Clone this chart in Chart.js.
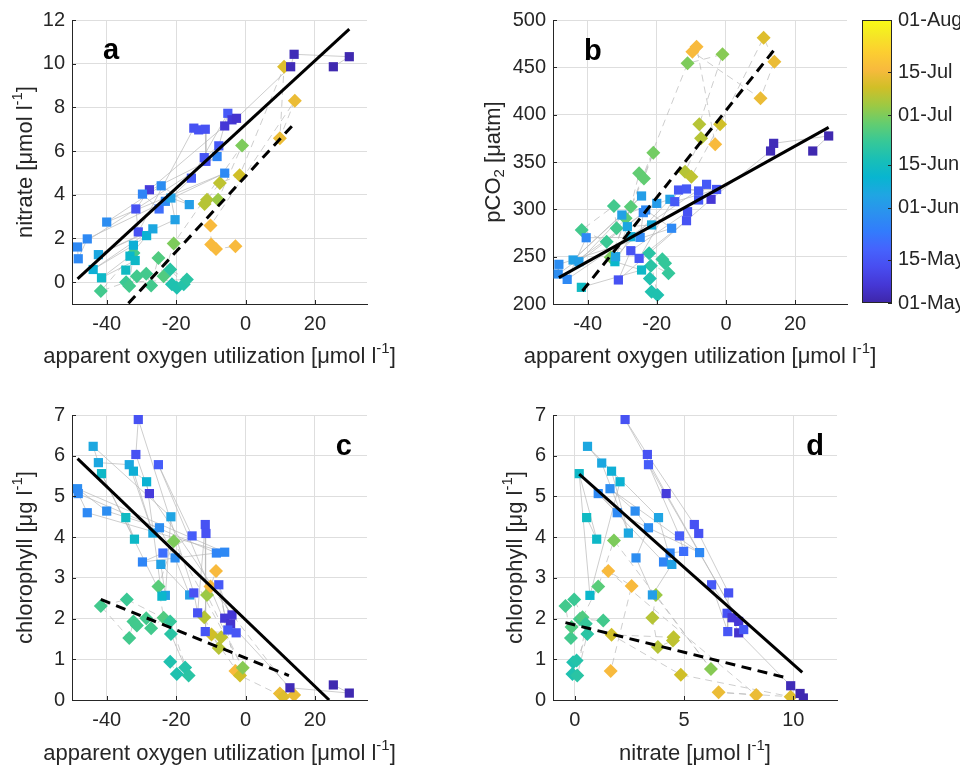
<!DOCTYPE html>
<html><head><meta charset="utf-8">
<script src="https://cdn.jsdelivr.net/npm/chart.js@4.4.1/dist/chart.umd.min.js"></script>
<style>
html,body{margin:0;padding:0;background:#fff;width:960px;height:765px;overflow:hidden}
canvas{position:absolute;left:0;top:0}
</style></head><body>
<canvas id="cA" width="960" height="765"></canvas>
<canvas id="cB" width="960" height="765"></canvas>
<canvas id="cC" width="960" height="765"></canvas>
<canvas id="cD" width="960" height="765"></canvas>
<canvas id="cBar" width="960" height="765"></canvas>
<script>
// ---------- data (days since 01-May) ----------
// panel a: AOU vs nitrate
const aSqX = [-48.4,-48.2,-45.6,-40.0,-42.4,-43.9,-41.5,-31.6,-30.9,-27.7,-29.7,-32.3,-33.3,-31.8,-34.5,-28.5,-26.7,-24.3,-24.9,-23.1,-21.5,-20.3,-16.2,-15.6,-14.9,-13.5,-11.6,-11.4,-11.9,-8.2,-7.7,-6.0,-5.1,-3.9,-6.0,-2.6,14.0,13.0,25.3,29.9];
const aSqY = [1.61,1.07,1.98,2.75,1.26,0.58,0.20,3.35,2.30,4.23,4.03,1.69,1.19,0.99,0.55,2.13,2.44,4.41,3.35,3.70,3.85,2.86,3.55,4.76,7.05,6.97,7.00,5.53,5.70,5.75,6.24,4.99,7.73,7.43,7.15,7.50,10.43,9.86,9.86,10.32];
const aSqD = [27,27,27,28,36,39,43,13,13,7,26,39,42,43,44,40,36,28,20,27,34,34,33,16,13,13,13,13,14,26,15,27,15,6,6,5,2,2,1,1];
const aDiX = [-41.7,-32.3,-34.4,-33.5,-31.3,-28.6,-27.2,-25.1,-23.6,-21.7,-21.2,-19.8,-17.8,-16.9,-20.7,-11.8,-11.1,-7.9,-7.4,-1.7,-1.0,-10.1,-9.9,-8.5,-2.9,9.9,11.1,14.2];
const aDiY = [-0.41,1.34,0.00,-0.18,0.27,0.38,-0.15,1.11,0.27,0.58,-0.10,-0.26,-0.10,0.12,1.77,3.58,3.77,3.77,4.54,4.89,6.26,2.59,1.72,1.52,1.64,6.59,9.86,8.30];
const aDiD = [54,54,53,54,54,54,54,56,56,50,48,48,49,50,61,67,67,64,68,70,61,76,76,76,76,74,72,74];
const aFitSqX = [-48.4, 29.9], aFitSqY = [0.15, 11.58];
const aFitDiX = [-33.75, 13.7], aFitDiY = [-0.97, 7.2];

// panel b: AOU vs pCO2
const bSqX = [-48.3,-48.5,-45.9,-44.2,-42.5,-40.4,-41.8,-32.1,-31.9,-31.1,-30.1,-28.5,-27.5,-24.8,-27.5,-25.1,-24.4,-24.4,-23.9,-21.5,-23.2,-20.0,-16.2,-15.7,-14.8,-13.7,-11.4,-11.1,-11.4,-7.9,-7.9,-5.6,-4.3,-2.7,13.8,12.9,25.1,29.7];
const bSqY = [241.9,231.7,226.0,246.5,244.7,270.0,217.6,244.7,250.0,225.4,294.0,281.7,271.1,270.4,256.3,248.2,235.9,314.1,296.5,283.5,299.3,306.3,310.6,280.0,308.1,320.4,321.5,297.5,288.0,319.4,309.9,326.4,310.6,321.0,369.7,361.6,361.6,377.5];
const bSqD = [28,28,27,34,33,27,44,42,35,13,34,36,39,27,13,14,43,33,27,37,27,32,34,27,15,14,15,13,13,15,15,15,6,14,2,2,1,1];
const bDiX = [-41.7,-32.4,-34.5,-33.3,-31.6,-29.0,-27.5,-25.1,-23.7,-21.0,-22.2,-21.7,-22.0,-21.5,-19.8,-18.4,-17.6,-16.6,-11.1,-9.7,-8.5,-1.0,-7.7,-7.2,-11.8,-10.0,-1.7,-3.1,10.9,14.0,10.0];
const bDiY = [278.2,303.5,265.8,249.3,280.0,290.5,302.8,338.0,332.7,359.9,253.5,240.5,227.0,213.0,209.5,247.2,243.0,232.4,454.2,466.5,471.8,463.7,390.0,375.0,339.8,334.5,390.0,368.7,481.3,456.0,417.3];
const bDiD = [54,54,53,61,54,57,57,58,58,60,50,50,48,48,48,52,52,52,61,76,76,62,67,67,67,68,70,76,72,74,74];
const bFitSqX = [-48.3, 29.7], bFitSqY = [227.8, 386.6];
const bFitDiX = [-41.5, 14.3], bFitDiY = [213.7, 470.1];

// panel c: AOU vs chlorophyll
const cSqX = [-48.4,-48.2,-45.6,-40.0,-43.9,-42.4,-41.5,-34.5,-33.5,-32.3,-32.0,-31.6,-30.9,-29.7,-28.5,-27.7,-26.7,-25.1,-24.8,-24.4,-23.8,-23.1,-24.1,-21.5,-20.3,-16.1,-15.4,-14.9,-13.8,-11.6,-11.4,-11.6,-8.4,-6.0,-7.7,-6.0,-3.9,-4.3,-5.1,-2.7,12.8,25.3,29.9];
const cSqY = [5.19,5.07,4.60,4.64,6.23,5.83,5.56,4.48,5.78,5.62,3.95,6.03,6.89,3.39,5.36,5.07,4.10,5.78,4.23,3.33,3.61,2.57,2.55,4.50,3.49,2.58,4.03,2.63,2.14,4.31,4.09,1.68,3.61,3.63,2.83,2.01,2.09,1.87,1.72,1.65,0.30,0.37,0.17];
const cSqD = [28,27,27,28,36,36,43,44,36,39,43,13,13,26,40,7,36,16,28,34,20,34,42,35,28,33,16,13,13,13,13,14,26,27,15,6,6,5,15,14,2,1,1];
const cDiX = [-41.7,-34.2,-33.5,-32.3,-31.3,-28.6,-27.2,-25.1,-23.6,-21.7,-21.5,-21.7,-19.8,-17.4,-16.4,-20.7,-11.9,-11.1,-9.8,-7.7,-7.0,-10.1,-8.5,-2.9,-1.6,-0.8,9.9,10.9,14.0];
const cDiY = [2.31,2.47,1.52,1.93,1.83,2.01,1.76,2.79,2.02,1.93,1.62,0.94,0.64,0.80,0.60,3.90,2.03,2.58,1.61,1.28,1.54,2.79,3.17,0.71,0.60,0.79,0.16,0.08,0.12];
const cDiD = [54,53,54,54,54,54,54,57,56,52,50,48,48,49,50,61,67,64,70,67,68,76,76,76,70,62,74,72,74];
const cFitSqX = [-48.4, 24.1], cFitSqY = [5.93, 0.0];
const cFitDiX = [-41.7, 12.5], cFitDiY = [2.47, 0.6];

// panel d: nitrate vs chlorophyll
const dSqX = [2.30,3.32,3.37,4.18,0.58,1.23,0.20,1.68,2.07,1.07,1.61,1.94,2.76,3.83,3.37,2.45,0.54,1.00,2.80,4.79,4.98,4.36,4.06,4.44,5.71,5.47,5.67,0.69,3.55,6.26,7.04,6.97,7.20,7.50,7.00,7.50,7.73,9.88,10.31,10.46];
const dSqY = [6.89,6.03,5.78,5.07,6.23,5.82,5.56,5.62,5.36,5.07,5.19,4.60,4.64,4.48,4.23,4.10,4.48,3.95,3.49,4.03,3.65,3.61,3.39,3.33,3.62,4.31,4.09,2.57,2.58,2.83,2.63,2.13,2.02,1.93,1.68,1.65,1.73,0.35,0.16,0.05];
const dSqD = [13,13,16,7,36,36,43,39,40,27,28,27,28,35,28,36,44,43,28,16,20,26,26,34,27,13,13,42,33,15,13,13,6,6,14,5,15,2,1,1];
const dDiX = [-0.43,-0.03,-0.18,-0.15,0.23,0.35,0.50,0.57,-0.08,0.08,-0.11,0.11,1.30,1.07,1.79,1.53,2.60,1.68,1.64,3.71,3.55,3.80,4.49,4.52,4.85,6.23,6.58,8.30,9.88];
const dDiY = [2.31,2.47,1.52,1.79,1.99,2.03,1.87,1.62,0.93,0.97,0.64,0.60,1.95,2.79,3.92,3.17,2.80,1.60,0.71,2.58,2.02,1.30,1.46,1.54,0.62,0.76,0.19,0.12,0.08];
const dDiD = [54,53,54,56,54,56,52,50,48,49,48,50,54,57,61,76,76,70,76,64,67,67,68,68,70,62,74,74,72];
const dFitSqX = [0.2, 10.41], dFitSqY = [5.55, 0.68];
const dFitDiX = [-0.43, 9.57], dFitDiY = [1.9, 0.56];

// ticks
const aouTicks = [-40, -20, 0, 20];
const nitrateTicks = [0, 2, 4, 6, 8, 10, 12];
const pco2Ticks = [200, 250, 300, 350, 400, 450, 500];
const chlTicks = [0, 1, 2, 3, 4, 5, 6, 7];
const nitrateXTicks = [0, 5, 10];
const cbTickDays = [0, 14, 31, 45, 61, 75, 92];
const cbTickLabels = ['01-May', '15-May', '01-Jun', '15-Jun', '01-Jul', '15-Jul', '01-Aug'];
const DAY_SPAN = 92;

// axis titles: [text, kind] pieces ('' normal, 'sup', 'sub')
const aouTitle = [['apparent oxygen utilization [\u03BCmol l', ''], ['-1', 'sup'], [']', '']];
const nitrateTitle = [['nitrate [\u03BCmol l', ''], ['-1', 'sup'], [']', '']];
const pco2Title = [['pCO', ''], ['2', 'sub'], [' [\u03BCatm]', '']];
const chlTitle = [['chlorophyll [\u03BCg l', ''], ['-1', 'sup'], [']', '']];

// ---------- colormap (parula) ----------
const PARULA = [[0.2422,0.1504,0.6603],[0.2706,0.2147,0.8364],[0.2813,0.3006,0.9414],[0.2699,0.3892,0.9906],[0.1963,0.4847,0.9892],[0.1687,0.5703,0.9359],[0.1248,0.6459,0.8883],[0.0297,0.7082,0.8163],[0.0964,0.7500,0.7120],[0.2161,0.7843,0.5923],[0.3909,0.8029,0.4354],[0.6174,0.7876,0.2612],[0.8203,0.7498,0.1535],[0.9728,0.7298,0.2394],[0.9892,0.8136,0.1885],[0.9597,0.9135,0.1423],[0.9769,0.9839,0.0805]];
const PARULA_T = PARULA.map((c,i)=> i === PARULA.length-1 ? 1 : (4*i)/63);
function rgbStr(c){ return 'rgb(' + c.map(v=>Math.round(v*255)).join(',') + ')'; }
function parula(t){
  t = Math.max(0, Math.min(1, t));
  for (let i = 0; i < PARULA.length-1; i++){
    const t0 = PARULA_T[i], t1 = PARULA_T[i+1];
    if (t <= t1){
      const f = (t - t0) / (t1 - t0);
      return rgbStr(PARULA[i].map((v,k)=> v + (PARULA[i+1][k]-v)*f));
    }
  }
  return rgbStr(PARULA[PARULA.length-1]);
}
const dayColor = d => parula(d / DAY_SPAN);

// ---------- drawing ----------
const FONT = "'Liberation Sans', Arial, Helvetica, sans-serif";
const INK = '#262626';
const GRID = '#dedede';
const LINK = '#b8b8b8';
const TITLE_SIZE = 22;

function drawRich(ctx, pieces, cx, cy, size, rotate){
  ctx.save();
  ctx.translate(cx, cy);
  if (rotate) ctx.rotate(-Math.PI / 2);
  ctx.fillStyle = INK;
  ctx.textBaseline = 'middle';
  ctx.textAlign = 'left';
  const fontFor = k => (k ? Math.round(size * 0.7) : size) + 'px ' + FONT;
  let total = 0;
  const widths = pieces.map(([t, k]) => { ctx.font = fontFor(k); const w = ctx.measureText(t).width; total += w; return w; });
  let x = -total / 2;
  pieces.forEach(([t, k], i) => {
    ctx.font = fontFor(k);
    const dy = k === 'sup' ? -size * 0.36 : (k === 'sub' ? size * 0.28 : 0);
    ctx.fillText(t, x, dy);
    x += widths[i];
  });
  ctx.restore();
}

const panelPlugin = {
  id: 'panelDeco',
  afterDraw(chart, args, opts){
    const {ctx, chartArea: a, scales} = chart;
    ctx.save();
    ctx.strokeStyle = INK; ctx.lineWidth = 1;
    scales.x.ticks.forEach(t => {
      const x = Math.round(scales.x.getPixelForValue(t.value)) + 0.5;
      ctx.beginPath(); ctx.moveTo(x, a.bottom); ctx.lineTo(x, a.bottom - 4); ctx.stroke();
    });
    scales.y.ticks.forEach(t => {
      const y = Math.round(scales.y.getPixelForValue(t.value)) + 0.5;
      ctx.beginPath(); ctx.moveTo(a.left, y); ctx.lineTo(a.left + 4, y); ctx.stroke();
    });
    ctx.font = 'bold 29px ' + FONT;
    ctx.fillStyle = '#000';
    ctx.textBaseline = 'alphabetic';
    ctx.textAlign = opts.align;
    const x = opts.align === 'left' ? a.left + opts.dx : a.right - opts.dx;
    ctx.fillText(opts.text, x, a.top + opts.dy);
    ctx.restore();
    drawRich(ctx, opts.xTitle, (a.left + a.right) / 2, opts.xTitleY, TITLE_SIZE, false);
    drawRich(ctx, opts.yTitle, opts.yTitleX, (a.top + a.bottom) / 2, TITLE_SIZE, true);
  }
};

function pts(xs, ys){ return xs.map((x,i)=>({x, y: ys[i]})); }
function byDay(p, days){ return p.map((q,i)=>[q, days[i]]).sort((u,v)=>u[1]-v[1]).map(u=>u[0]); }

function makePanel(id, p){
  const sq = pts(p.sqX, p.sqY), di = pts(p.diX, p.diY);
  const tickFont = {family: FONT, size: 20};
  new Chart(document.getElementById(id), {
    type: 'scatter',
    data: { datasets: [
      {data: pts(p.fitSqX, p.fitSqY), showLine: true, borderColor: '#000', borderWidth: 3, pointRadius: 0, order: 1},
      {data: pts(p.fitDiX, p.fitDiY), showLine: true, borderColor: '#000', borderWidth: 3, borderDash: [10, 6.5], pointRadius: 0, order: 1},
      {data: sq, pointStyle: 'rect', pointRadius: 6.5, pointBackgroundColor: p.sqD.map(dayColor), pointBorderColor: p.sqD.map(dayColor), pointBorderWidth: 0, order: 2},
      {data: di, pointStyle: 'rectRot', pointRadius: 7, pointBackgroundColor: p.diD.map(dayColor), pointBorderColor: p.diD.map(dayColor), pointBorderWidth: 0, order: 2},
      {data: byDay(sq, p.sqD), showLine: true, borderColor: LINK, borderWidth: 0.7, pointRadius: 0, order: 3},
      {data: byDay(di, p.diD), showLine: true, borderColor: LINK, borderWidth: 0.7, borderDash: [7, 5], pointRadius: 0, order: 3}
    ]},
    options: {
      responsive: false, animation: false, events: [],
      layout: {padding: p.pad},
      plugins: {legend: {display: false}, tooltip: {enabled: false}, panelDeco: p.deco},
      scales: {
        x: {
          type: 'linear', min: p.xMin, max: p.xMax,
          afterBuildTicks: s => { s.ticks = p.xTicks.map(v => ({value: v})); },
          afterFit: s => { s.height = p.xH; },
          grid: {color: GRID, lineWidth: 1, drawTicks: false},
          border: {display: true, color: INK, width: 1},
          ticks: {font: tickFont, color: INK, padding: 8, maxRotation: 0, autoSkip: false},
          title: {display: false}
        },
        y: {
          type: 'linear', min: p.yMin, max: p.yMax,
          afterBuildTicks: s => { s.ticks = p.yTicks.map(v => ({value: v})); },
          afterFit: s => { s.width = p.yW; },
          grid: {color: GRID, lineWidth: 1, drawTicks: false},
          border: {display: true, color: INK, width: 1},
          ticks: {font: tickFont, color: INK, padding: 7, autoSkip: false},
          title: {display: false}
        }
      }
    },
    plugins: [panelPlugin]
  });
}

makePanel('cA', {sqX: aSqX, sqY: aSqY, sqD: aSqD, diX: aDiX, diY: aDiY, diD: aDiD,
  fitSqX: aFitSqX, fitSqY: aFitSqY, fitDiX: aFitDiX, fitDiY: aFitDiY,
  xMin: -50, xMax: 35, xTicks: aouTicks, yMin: -1, yMax: 12, yTicks: nitrateTicks,
  pad: {left: 0, top: 20, right: 593, bottom: 391}, xH: 70, yW: 72,
  deco: {text: 'a', align: 'left', dx: 31, dy: 39, xTitle: aouTitle, yTitle: nitrateTitle, xTitleY: 357, yTitleX: 26}});

makePanel('cB', {sqX: bSqX, sqY: bSqY, sqD: bSqD, diX: bDiX, diY: bDiY, diD: bDiD,
  fitSqX: bFitSqX, fitSqY: bFitSqY, fitDiX: bFitDiX, fitDiY: bFitDiY,
  xMin: -50, xMax: 35, xTicks: aouTicks, yMin: 200, yMax: 500, yTicks: pco2Ticks,
  pad: {left: 473, top: 20, right: 113, bottom: 391}, xH: 70, yW: 80,
  deco: {text: 'b', align: 'left', dx: 31, dy: 40, xTitle: aouTitle, yTitle: pco2Title, xTitleY: 357, yTitleX: 494}});

makePanel('cC', {sqX: cSqX, sqY: cSqY, sqD: cSqD, diX: cDiX, diY: cDiY, diD: cDiD,
  fitSqX: cFitSqX, fitSqY: cFitSqY, fitDiX: cFitDiX, fitDiY: cFitDiY,
  xMin: -50, xMax: 35, xTicks: aouTicks, yMin: 0, yMax: 7, yTicks: chlTicks,
  pad: {left: 0, top: 415, right: 593, bottom: 0}, xH: 65, yW: 72,
  deco: {text: 'c', align: 'right', dx: 15, dy: 40, xTitle: aouTitle, yTitle: chlTitle, xTitleY: 754, yTitleX: 26}});

makePanel('cD', {sqX: dSqX, sqY: dSqY, sqD: dSqD, diX: dDiX, diY: dDiY, diD: dDiD,
  fitSqX: dFitSqX, fitSqY: dFitSqY, fitDiX: dFitDiX, fitDiY: dFitDiY,
  xMin: -1, xMax: 12, xTicks: nitrateXTicks, yMin: 0, yMax: 7, yTicks: chlTicks,
  pad: {left: 493, top: 415, right: 123, bottom: 0}, xH: 65, yW: 60,
  deco: {text: 'd', align: 'right', dx: 13, dy: 40, xTitle: nitrateTitle, yTitle: chlTitle, xTitleY: 754, yTitleX: 516}});

// ---------- colorbar ----------
const cbarPlugin = {
  id: 'cbarFill',
  beforeDatasetsDraw(chart){
    const {ctx, chartArea: a, scales: {y}} = chart;
    ctx.save();
    const g = ctx.createLinearGradient(0, y.getPixelForValue(0), 0, y.getPixelForValue(DAY_SPAN));
    PARULA.forEach((c, i) => g.addColorStop(PARULA_T[i], rgbStr(c)));
    ctx.fillStyle = g;
    ctx.fillRect(a.left, a.top, a.right - a.left, a.bottom - a.top);
    ctx.strokeStyle = INK; ctx.lineWidth = 1;
    ctx.strokeRect(a.left + 0.5, a.top + 0.5, a.right - a.left - 1, a.bottom - a.top - 1);
    cbTickDays.forEach(d => {
      const py = Math.round(y.getPixelForValue(d)) + 0.5;
      ctx.beginPath(); ctx.moveTo(a.right, py); ctx.lineTo(a.right - 4, py); ctx.stroke();
    });
    ctx.restore();
  }
};
new Chart(document.getElementById('cBar'), {
  type: 'scatter',
  data: {datasets: [{data: [], pointRadius: 0}]},
  options: {
    responsive: false, animation: false, events: [],
    layout: {padding: {left: 862, top: 20, right: 0, bottom: 462}},
    plugins: {legend: {display: false}, tooltip: {enabled: false}},
    scales: {
      x: {type: 'linear', display: false, min: 0, max: 1},
      y: {
        type: 'linear', position: 'right', min: 0, max: DAY_SPAN,
        afterBuildTicks: s => { s.ticks = cbTickDays.map(v => ({value: v})); },
        afterFit: s => { s.width = 68; },
        grid: {display: false, drawTicks: false},
        border: {display: false},
        ticks: {font: {family: FONT, size: 20}, color: INK, padding: 6, autoSkip: false,
          callback: (v, i) => cbTickLabels[i]}
      }
    }
  },
  plugins: [cbarPlugin]
});
</script>
</body></html>
